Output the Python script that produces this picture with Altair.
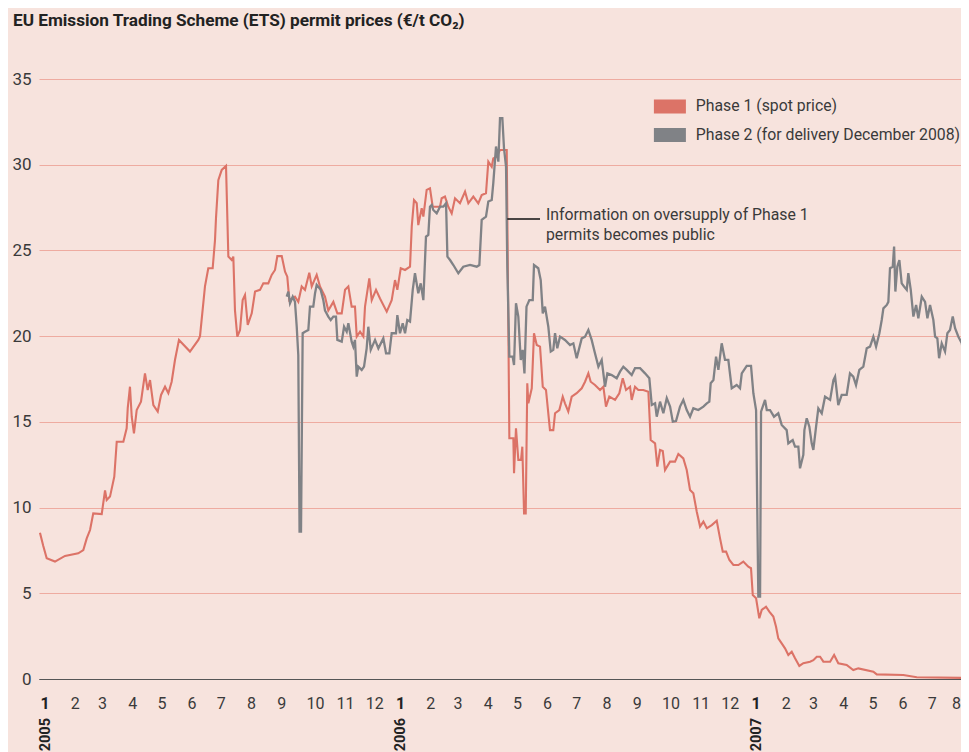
import altair as alt
import pandas as pd

# ---------------- data (days since 2005-01-01, €/t CO2) ----------------
SERIES = ["Phase 1 (spot price)", "Phase 2 (for delivery December 2008)"]

p1_day = [1.0, 4.4, 7.9, 16.4, 26.7, 40.3, 45.5, 49.0, 52.4, 55.7, 64.4, 67.8, 69.5, 72.9,
          77.3, 79.8, 86.6, 90.0, 91.1, 93.4, 95.2, 97.5, 100.3, 104.7, 108.8, 111.6, 114.0,
          117.4, 121.9, 125.3, 129.4, 132.8, 136.2, 139.6, 143.7, 155.0, 163.6, 165.3, 170.4,
          173.8, 178.3, 180.7, 181.7, 184.1, 187.6, 192.0, 194.4, 197.8, 199.5, 201.2, 203.6,
          206.4, 209.1, 211.5, 214.3, 218.4, 221.8, 226.9, 230.3, 235.4, 238.9, 242.3, 244.7,
          249.2, 252.6, 254.9, 257.0, 262.8, 266.2, 269.7, 273.1, 277.5, 280.0, 285.1, 288.5,
          293.6, 297.0, 302.2, 306.3, 310.8, 314.2, 317.6, 321.0, 324.4, 326.2, 329.6, 333.0,
          334.7, 339.1, 341.6, 346.0, 350.1, 357.0, 362.1, 365.5, 367.9, 371.4, 375.8, 380.9,
          382.7, 385.0, 387.8, 389.4, 392.9, 394.6, 398.0, 401.4, 404.2, 411.7, 413.4, 416.8,
          420.2, 423.7, 427.1, 432.2, 437.4, 440.8, 445.9, 451.0, 454.5, 458.9, 461.3, 464.8,
          466.4, 469.9, 473.3, 480.2, 482.9, 487.0, 487.7, 489.7, 492.1, 494.9, 496.2, 498.0,
          499.7, 501.3, 502.4, 505.9, 508.2, 511.0, 514.4, 517.2, 520.5, 524.6, 528.0, 529.8,
          534.2, 537.7, 540.0, 543.4, 546.9, 552.0, 557.2, 560.6, 564.0, 566.4, 570.8, 576.0,
          579.4, 582.1, 585.5, 591.4, 595.8, 599.3, 602.7, 606.8, 608.5, 611.9, 615.3, 620.4,
          625.6, 628.0, 632.5, 634.8, 637.6, 640.4, 642.7, 647.9, 653.0, 656.4, 661.5, 665.0,
          668.4, 671.8, 675.3, 678.7, 682.1, 685.6, 690.7, 695.8, 699.2, 702.0, 705.4, 708.8,
          712.9, 718.0, 723.1, 728.2, 731.0, 732.8, 736.2, 739.5, 742.0, 746.4, 749.8, 753.9,
          756.7, 759.0, 762.5, 765.9, 769.3, 772.8, 776.2, 780.6, 784.7, 791.6, 795.0, 798.5,
          801.9, 805.3, 812.2, 816.3, 820.6, 829.2, 836.0, 841.2, 856.6, 860.1, 887.4, 901.2,
          954.8]
p1_val = [8.53, 7.76, 7.04, 6.85, 7.18, 7.33, 7.52, 8.2, 8.69, 9.66, 9.62, 11.0, 10.44, 10.64,
          11.8, 13.84, 13.84, 14.62, 15.8, 17.05, 15.3, 14.33, 15.69, 16.18, 17.83, 16.86, 17.44,
          15.98, 15.6, 16.57, 17.05, 16.67, 17.34, 18.61, 19.78, 19.1, 19.78, 20.0, 22.9,
          23.96, 23.96, 25.6, 26.87, 29.1, 29.7, 29.93, 24.64, 24.44, 24.64, 21.5, 19.97,
          20.36, 22.1, 22.4, 20.65, 21.33, 22.6, 22.7, 23.08, 23.08, 23.57, 23.86, 24.67,
          24.67, 23.76, 23.47, 22.1, 22.3, 22.0, 22.9, 22.7, 23.7, 22.9, 23.57, 22.9,
          22.3, 21.5, 22.0, 21.33, 21.33, 22.7, 22.9, 21.72, 21.72, 19.97, 20.26, 19.97,
          21.72, 23.37, 22.1, 22.7, 22.2, 21.43, 22.1, 23.27, 22.7, 23.96, 23.86, 24.05,
          26.4, 27.94, 27.75, 26.48, 27.46, 26.97, 28.53, 28.62, 27.55, 27.55, 28.04, 28.14,
          27.55, 27.16, 28.04, 27.75, 28.43, 27.75, 28.14, 27.75, 28.23, 28.33, 30.18, 29.88,
          30.37, 30.47, 30.86, 30.86, 14.04, 14.04, 12.0, 14.62, 12.78, 12.78, 13.55, 9.66,
          9.66, 17.25, 16.08, 16.96, 20.17, 19.48, 19.39, 17.05, 16.86, 14.52, 14.52, 15.5,
          15.69, 16.47, 16.08, 15.6, 16.47, 16.67, 16.96, 17.34, 17.83, 17.34, 17.15, 16.86,
          17.05, 15.89, 16.47, 16.28, 16.67, 17.54, 16.86, 17.05, 16.28, 17.05, 16.86, 16.86,
          16.76, 13.94, 13.75, 12.39, 13.36, 13.3, 12.19, 12.68, 12.68, 13.13, 12.87, 12.19,
          11.03, 10.83, 9.76, 8.89, 9.18, 8.79, 8.98, 9.23, 8.2, 7.43, 7.43, 6.94,
          6.65, 6.65, 6.85, 6.55, 6.46, 4.9, 4.71, 3.54, 4.03, 4.22, 3.93, 3.64,
          3.05, 2.37, 2.08, 1.79, 1.40, 1.59, 1.21, 0.76, 0.92, 1.01, 1.1, 1.30,
          1.30, 1.01, 1.01, 1.40, 0.92, 0.82, 0.52, 0.62, 0.43, 0.27, 0.23, 0.10,
          0.06]

p2_day = [254.3, 256.0, 257.7, 260.5, 262.8, 264.6, 266.2, 267.5, 269.0, 270.7, 273.1, 276.5,
          278.2, 281.6, 283.4, 285.1, 289.2, 291.9, 293.6, 297.0, 299.5, 302.2, 304.9, 306.3,
          310.8, 313.2, 315.9, 317.6, 321.0, 322.7, 324.4, 326.2, 327.8, 331.3, 333.7, 336.4,
          338.1, 340.6, 345.0, 348.4, 353.5, 356.3, 359.7, 362.1, 366.5, 367.9, 370.6, 373.4,
          375.8, 378.1, 380.9, 383.7, 386.0, 389.4, 391.9, 394.6, 397.3, 399.7, 401.4, 403.2,
          404.8, 408.3, 411.7, 415.1, 417.9, 419.3, 422.0, 425.4, 430.5, 435.6, 442.5, 449.4,
          452.1, 454.5, 458.9, 461.3, 464.8, 466.4, 469.2, 471.6, 473.3, 475.7, 477.4, 479.5,
          480.8, 482.9, 486.3, 487.7, 489.7, 492.1, 494.6, 496.6, 498.4, 500.5, 503.4, 506.9,
          508.2, 512.6, 515.1, 517.2, 519.5, 522.9, 525.4, 528.0, 529.8, 532.1, 534.9, 540.0,
          545.2, 548.6, 552.0, 557.2, 560.6, 564.0, 567.4, 570.8, 574.3, 577.7, 581.1, 583.5,
          588.0, 593.1, 596.5, 599.9, 603.4, 608.5, 611.9, 617.1, 622.2, 626.6, 629.1, 632.5,
          634.2, 637.6, 641.0, 644.5, 647.9, 650.7, 654.0, 658.1, 661.5, 665.0, 668.4, 671.8,
          676.9, 682.1, 685.6, 688.2, 689.6, 692.4, 695.1, 697.5, 700.9, 704.3, 707.7, 711.2,
          716.3, 719.7, 721.5, 726.6, 731.0, 733.4, 736.2, 738.5, 740.3, 741.3, 745.4, 747.2,
          750.5, 754.6, 759.0, 762.5, 767.6, 769.3, 773.8, 776.2, 779.6, 781.3, 784.7, 785.8,
          788.2, 790.9, 793.3, 795.0, 797.8, 800.1, 803.6, 807.0, 812.2, 815.6, 817.3, 820.6,
          824.1, 829.2, 832.6, 836.0, 838.8, 842.2, 846.3, 849.8, 853.2, 856.6, 859.4, 862.8,
          865.2, 866.9, 870.4, 872.0, 873.7, 876.5, 877.9, 879.2, 881.2, 883.3, 885.7, 888.1,
          890.9, 892.5, 895.0, 897.7, 900.5, 902.8, 906.3, 909.7, 912.1, 914.8, 918.2, 920.0,
          922.3, 924.1, 926.8, 930.2, 932.6, 935.3, 938.1, 940.5, 943.9, 947.4, 949.0, 952.5,
          954.8]
p2_val = [22.3, 22.6, 21.92, 22.3, 22.0, 20.55, 18.9, 8.6, 8.6, 20.17, 20.26, 20.36,
          21.72, 21.72, 22.5, 22.99, 22.7, 22.1, 21.5, 21.14, 20.94, 21.14, 21.14, 19.78,
          19.68, 20.55, 20.26, 20.75, 19.68, 19.39, 19.78, 17.64, 18.22, 18.03, 18.22, 19.29,
          20.55, 19.2, 19.78, 19.29, 19.87, 19.0, 19.0, 20.17, 20.17, 21.23, 20.17, 20.75,
          20.17, 20.94, 20.85, 22.7, 23.67, 22.5, 23.08, 22.1, 25.8, 25.9, 27.55, 27.65,
          27.36, 27.16, 27.55, 27.55, 27.75, 24.64, 24.44, 24.15, 23.67, 24.05, 24.15, 24.05,
          24.15, 26.78, 26.97, 27.85, 27.94, 28.92, 31.06, 30.18, 32.71, 32.71, 30.96, 29.88,
          24.05, 18.8, 18.8, 18.32, 21.92, 21.14, 18.61, 19.2, 17.83, 21.72, 22.1, 22.1,
          24.15, 23.96, 23.27, 21.33, 21.72, 20.55, 19.1, 19.2, 20.17, 19.29, 19.97, 19.78,
          19.48, 19.58, 18.71, 19.87, 19.97, 20.36, 19.78, 19.0, 18.22, 18.61, 17.05, 17.83,
          17.73, 17.54, 17.93, 18.22, 18.03, 17.73, 18.13, 18.13, 17.83, 17.54, 15.98, 16.08,
          15.3, 16.18, 15.5, 16.38, 15.89, 15.01, 15.05, 15.89, 16.28, 15.69, 15.3, 15.79,
          15.69, 15.89, 16.08, 16.18, 17.25, 17.44, 18.8, 18.03, 19.58, 18.61, 18.61, 16.96,
          17.15, 16.96, 17.83, 18.26, 18.26, 16.67, 15.69, 4.8, 4.8, 15.6, 16.28, 15.69,
          15.69, 15.3, 15.5, 14.82, 14.52, 13.75, 13.94, 13.55, 13.55, 12.29, 13.07, 14.52,
          15.21, 14.72, 13.75, 13.36, 14.72, 15.79, 15.5, 16.47, 16.28, 17.44, 17.64, 15.98,
          16.57, 16.57, 17.83, 17.64, 17.15, 18.03, 18.22, 19.29, 19.39, 19.97, 19.39, 20.17,
          20.94, 21.62, 21.82, 22.0, 23.96, 24.05, 25.22, 22.6, 24.05, 24.44, 23.08, 22.9,
          22.7, 23.67, 22.7, 21.14, 21.82, 21.04, 22.3, 22.0, 21.04, 21.82, 20.94, 19.97,
          19.87, 18.71, 19.58, 19.1, 20.17, 20.36, 21.14, 20.46, 19.97, 19.58, 19.0, 19.58,
          19.29]

YEARS = ["2005", "2006", "2007"]
MONTHS_SHOWN = [(2005, 12), (2006, 12), (2007, 8)]   # last month label in each year
Y_TICKS = [0, 5, 10, 15, 20, 25, 30, 35]
TITLE = "EU Emission Trading Scheme (ETS) permit prices (€/t CO₂)"
NOTE = "Information on oversupply of Phase 1\npermits becomes public"
NOTE_DAYS = [480.8, 514.4, 520.5]   # rule start, rule end, text start
NOTE_VAL = [26.84, 27.07]           # rule level, text level

# ---------------- styling ----------------
BG = "#f7e3dd"
RED = "#dc7367"
GRAY = "#808286"
GRID = "#eeaba0"
TXT = "#3a3a3a"
FONT = "Roboto"

base = pd.Timestamp("2005-01-01")


def iso(days):
    return [(base + pd.Timedelta(days=float(d))).strftime("%Y-%m-%dT%H:%M:%S") for d in days]


df1 = pd.DataFrame({"date": iso(p1_day), "price": p1_val})
df2 = pd.DataFrame({"date": iso(p2_day), "price": p2_val})

m_rows = []
for yr, last in MONTHS_SHOWN:
    for m in range(1, last + 1):
        m_rows.append({"d": f"{yr}-{m:02d}-01T00:00:00", "t": str(m),
                       "kind": "jan" if m == 1 else ("end" if (yr, m) == MONTHS_SHOWN[-1] else "mid")})
months_df = pd.DataFrame(m_rows)

x_scale = alt.Scale(domain=["2005-01-01T00:00:00", "2007-08-05T14:00:00"])
y_scale = alt.Scale(domain=[0, 35], nice=False)
color_scale = alt.Scale(domain=SERIES, range=[RED, GRAY])

x_axis = alt.Axis(labels=False, ticks=False, grid=False, domainColor="#555555",
                  domainWidth=1, title=None)
y_axis = alt.Axis(
    values=Y_TICKS, ticks=False, domain=False, grid=True,
    gridColor={"condition": {"test": "datum.value === 0", "value": "#555555"}, "value": GRID},
    gridWidth=1, labelPadding=8, labelFontSize=17, labelColor=TXT, labelFont=FONT,
    title=None,
)

legend = alt.Legend(
    title=None, orient="none", legendX=623, legendY=19.5,
    symbolType="M-2.2857,-1H2.2857V1H-2.2857Z", symbolSize=196, symbolStrokeWidth=0,
    labelFontSize=15.8, labelFont=FONT, labelColor=TXT, labelOffset=18, labelLimit=0,
    rowPadding=11.5, symbolOpacity=1,
)

x_enc = alt.X("date:T", scale=x_scale, axis=x_axis)
y_enc = alt.Y("price:Q", scale=y_scale, axis=y_axis)

red_line = alt.Chart(df1).mark_line(strokeWidth=2.1, clip=True, color=RED).encode(x=x_enc, y=y_enc)
gray_line = alt.Chart(df2).mark_line(strokeWidth=2.3, clip=True, color=GRAY).encode(x=x_enc, y=y_enc)

# invisible layer carrying the colour legend (filled swatches)
legend_df = pd.DataFrame({"series": SERIES})
legend_layer = alt.Chart(legend_df).mark_point(filled=True, opacity=0).encode(
    color=alt.Color("series:N", scale=color_scale, legend=legend))

note_rule_df = pd.DataFrame({"d1": iso([NOTE_DAYS[0]]), "d2": iso([NOTE_DAYS[1]]), "v": [NOTE_VAL[0]]})
note_rule = alt.Chart(note_rule_df).mark_rule(color="#111111", strokeWidth=1.5).encode(
    x="d1:T", x2="d2:T", y="v:Q")
note_text_df = pd.DataFrame({"d": iso([NOTE_DAYS[2]]), "v": [NOTE_VAL[1]], "t": [NOTE]})
note_text = alt.Chart(note_text_df).mark_text(
    align="left", baseline="middle", lineBreak="\n", lineHeight=20, fontSize=15.8,
    font=FONT, color=TXT).encode(x="d:T", y="v:Q", text="t:N")

month_norm = alt.Chart(months_df).transform_filter("datum.kind == 'mid'").mark_text(
    align="left", baseline="top", dx=1.5, fontSize=16, font=FONT, color=TXT
).encode(x="d:T", y=alt.value(617), text="t:N")
month_end = alt.Chart(months_df).transform_filter("datum.kind == 'end'").mark_text(
    align="left", baseline="top", dx=-4.5, fontSize=16, font=FONT, color=TXT
).encode(x="d:T", y=alt.value(617), text="t:N")
month_bold = alt.Chart(months_df).transform_filter("datum.kind == 'jan'").mark_text(
    align="left", baseline="top", dx=1.5, fontSize=16, font=FONT, fontWeight="bold",
    color="#222222").encode(x="d:T", y=alt.value(617), text="t:N")

years_df = pd.DataFrame({"d": [f"{y}-01-01T00:00:00" for y in YEARS], "t": YEARS})
year_text = alt.Chart(years_df).mark_text(
    angle=270, align="right", baseline="middle", dy=6.5, fontSize=14.5, fontWeight="bold",
    font=FONT, color="#222222").encode(x="d:T", y=alt.value(639), text="t:N")

chart = alt.layer(red_line, gray_line, legend_layer, note_rule, note_text, month_norm,
                  month_end, month_bold, year_text).properties(
    width=922, height=600,
    title=alt.TitleParams(TITLE, anchor="start", frame="group", dx=-26, offset=41,
                          fontSize=17.2, fontWeight="bold", font=FONT, color="#222222"),
    autosize=alt.AutoSizeParams(type="none"),
    padding={"left": 31, "top": 71, "right": 0, "bottom": 73},
).configure(background=BG).configure_view(stroke=None)

chart.save("out.html", embed_options={"renderer": "svg", "actions": False})
